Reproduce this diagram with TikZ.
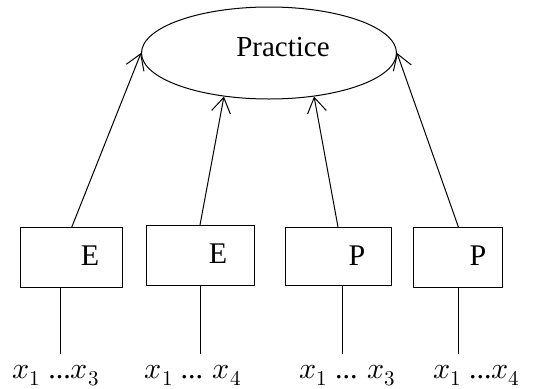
\documentclass[tikz,border=0pt]{standalone}
\usepackage{fontspec}
\usepackage{unicode-math}
\setmainfont{Liberation Serif}
\setmathfont{Latin Modern Math}
\usetikzlibrary{shapes.geometric,arrows.meta}
\begin{document}
\begin{tikzpicture}[x=1pt,y=-1pt,
  line width=1pt,
  boxnode/.style={draw,rectangle,inner sep=0pt},
  txt/.style={font=\fontsize{30}{32}\selectfont,inner sep=0pt},
  varlbl/.style={font=\fontsize{30}{33}\selectfont,inner sep=0pt,anchor=base},
  arr/.style={-{Straight Barb[length=15pt,width=19pt,line width=1pt]}}]
\useasboundingbox (0,0) rectangle (542,389);
% latent construct
\node[draw,ellipse,minimum width=255pt,minimum height=92pt,inner sep=0pt] (prac) at (269,53) {};
\node[txt,font=\fontsize{29}{31}\selectfont] (practxt) at (283,47) {Practice};
% indicator boxes
\node[boxnode,minimum width=102pt,minimum height=60pt] (b1) at (71.8,257.5) {};
\node[boxnode,minimum width=108pt,minimum height=60pt] (b2) at (200,255.5) {};
\node[boxnode,minimum width=106pt,minimum height=58pt] (b3) at (338,256.5) {};
\node[boxnode,minimum width=89pt,minimum height=60pt] (b4) at (458.4,257.5) {};
\node[txt] (t1) at (90,256) {E};
\node[txt] (t2) at (218,254) {E};
\node[txt] (t3) at (357,256) {P};
\node[txt] (t4) at (478,256) {P};
% paths into the construct
\draw[arr] (b1.north) -- (prac.west);
\draw[arr] (b2.north) -- (prac.224);
\draw[arr] (b3.north) -- (prac.316);
\draw[arr] (b4.north) -- (prac.east);
% item ranges below the boxes
\coordinate (e1) at (60.7,354);
\coordinate (e2) at (200,354);
\coordinate (e3) at (342.3,354);
\coordinate (e4) at (458.3,354);
\draw (b1.south -| e1) -- (e1);
\draw (b2.south -| e2) -- (e2);
\draw (b3.south -| e3) -- (e3);
\draw (b4.south -| e4) -- (e4);
\node[varlbl] (l1) at (56,378) {$x_1$ ...$x_3$};
\node[varlbl] (l2) at (193,378) {$x_1$ ... $x_4$};
\node[varlbl] (l3) at (347.5,378) {$x_1$ ... $x_3$};
\node[varlbl] (l4) at (476.7,378) {$x_1$ ...$x_4$};
\end{tikzpicture}
\end{document}
